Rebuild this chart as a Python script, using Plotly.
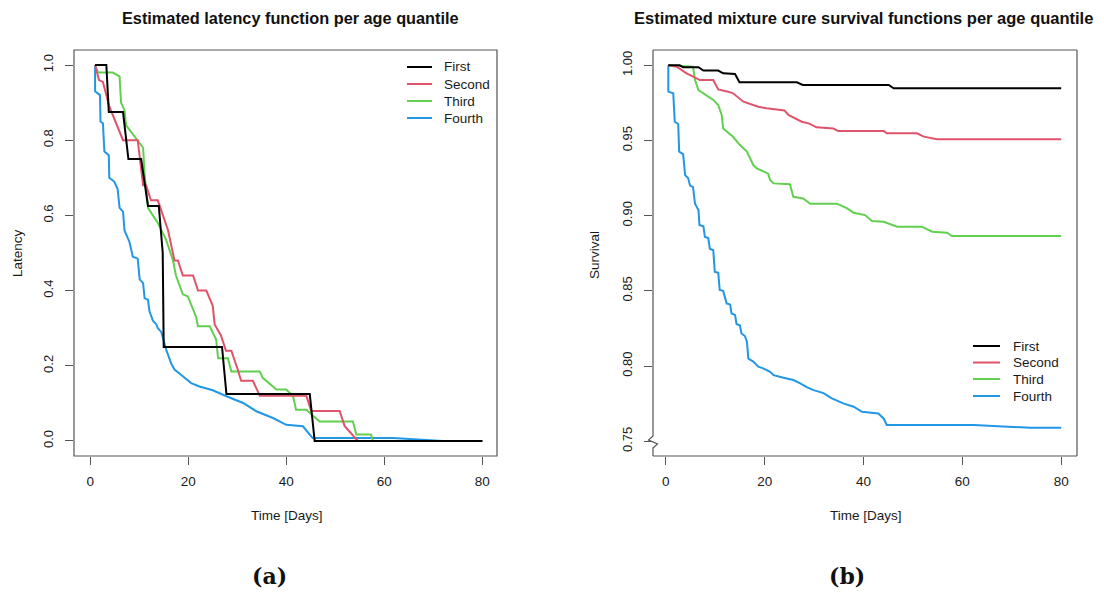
import plotly.graph_objects as go

W, H = 1104, 592

# ---------------- data ----------------
series_names = ["First", "Second", "Third", "Fourth"]
series_colors = ["#000000", "#DF536B", "#61D04F", "#2297E6"]

x_ticks = [0, 20, 40, 60, 80]
lat_yticks = [0.0, 0.2, 0.4, 0.6, 0.8, 1.0]
lat_yticklabels = ["0.0", "0.2", "0.4", "0.6", "0.8", "1.0"]
surv_yticks = [0.75, 0.80, 0.85, 0.90, 0.95, 1.00]
surv_yticklabels = ["0.75", "0.80", "0.85", "0.90", "0.95", "1.00"]

# (a) latency
lat_first_t = [1, 3.3, 3.8, 6.7, 7.8, 10.4, 11.8, 14.0, 14.8, 15.0, 26.9, 27.8, 44.8, 45.8, 80]
lat_first_s = [1, 1, 0.875, 0.875, 0.75, 0.75, 0.625, 0.625, 0.5, 0.25, 0.25, 0.125, 0.125, 0, 0]

lat_second_t = [1, 1.8, 2.6, 3.9, 6.7, 9.7, 10.8, 11.4, 12.4, 13.8, 15.9, 17.2, 17.9, 18.9, 21.0, 22.0, 23.7,
                25.0, 25.4, 26.7, 27.7, 28.8, 30.1, 30.8, 33.2, 34.6, 44.1, 45.1, 50.9, 51.9, 54.6, 80]
lat_second_s = [1, 0.96, 0.955, 0.89, 0.80, 0.80, 0.68, 0.68, 0.64, 0.64, 0.56, 0.48, 0.48, 0.44, 0.44, 0.40, 0.40,
                0.36, 0.31, 0.28, 0.24, 0.24, 0.19, 0.16, 0.16, 0.12, 0.12, 0.08, 0.08, 0.04, 0.0, 0.0]

lat_third_t = [1, 1.6, 4.6, 6.0, 6.3, 7.0, 7.3, 9.7, 10.8, 11.1, 11.8, 13.8, 15.5, 16.9, 17.5, 18.9, 19.9, 21.0,
               21.6, 22.0, 24.4, 25.7, 26.1, 28.1, 28.8, 34.6, 35.2, 38.0, 40.0, 41.4, 42.0, 44.1, 46.8, 53.6,
               54.3, 57.3, 57.7, 80]
lat_third_s = [1, 0.98, 0.98, 0.97, 0.90, 0.88, 0.84, 0.80, 0.78, 0.71, 0.62, 0.58, 0.535, 0.48, 0.44, 0.39, 0.385,
               0.35, 0.33, 0.305, 0.305, 0.27, 0.22, 0.22, 0.185, 0.185, 0.168, 0.137, 0.137, 0.119, 0.083, 0.083,
               0.052, 0.052, 0.017, 0.017, 0.0, 0.0]

lat_fourth_t = [1, 1, 2.0, 2.1, 2.6, 2.9, 3.8, 3.9, 4.9, 5.6, 6.0, 6.7, 7.0, 8.0, 8.7, 9.7, 10.1, 10.8, 11.1, 11.8,
                12.1, 12.8, 13.5, 13.8, 14.5, 15.5, 16.5, 17.2, 18.9, 20.6, 22.3, 25.0, 27.8, 31.2, 33.9, 37.3,
                40.0, 43.4, 45.1, 45.4, 61.8, 72, 80]
lat_fourth_s = [1, 0.93, 0.92, 0.85, 0.845, 0.77, 0.76, 0.70, 0.69, 0.67, 0.62, 0.61, 0.56, 0.53, 0.49, 0.485, 0.43,
                0.42, 0.38, 0.375, 0.345, 0.32, 0.31, 0.30, 0.29, 0.243, 0.207, 0.19, 0.172, 0.154, 0.145, 0.135,
                0.119, 0.101, 0.079, 0.061, 0.043, 0.039, 0.012, 0.008, 0.008, 0.0, 0.0]

# (b) mixture cure survival
surv_first_t = [0.5, 2.8, 3.5, 6.6, 7.6, 10.6, 11.6, 14.0, 14.9, 26.5, 27.7, 45.1, 46.1, 80]
surv_first_s = [1, 1.0, 0.9987, 0.9987, 0.9965, 0.9965, 0.9947, 0.9942, 0.9887, 0.9887, 0.987, 0.987, 0.9847, 0.9847]

surv_second_t = [0.5, 2.2, 4.2, 6.9, 9.6, 10.6, 12.6, 13.6, 15.7, 17.0, 18.7, 20.4, 21.8, 24.0, 24.8, 27.5, 28.9,
                 30.5, 33.9, 34.9, 44.1, 44.7, 50.8, 52.2, 54.9, 80]
surv_second_s = [1, 0.9991, 0.9947, 0.9902, 0.9902, 0.984, 0.9825, 0.9814, 0.9758, 0.9743, 0.9725, 0.9714, 0.971,
                 0.970, 0.967, 0.9625, 0.9614, 0.9588, 0.958, 0.9563, 0.9563, 0.9548, 0.9548, 0.9526, 0.9508, 0.9508]

surv_third_t = [0.5, 5.5, 5.9, 6.6, 9.6, 10.6, 11.3, 11.6, 13.6, 15.0, 16.4, 17.7, 18.4, 20.7, 21.1, 21.8, 25.1,
                25.8, 27.8, 29.2, 34.6, 36.6, 38.0, 40.3, 41.7, 44.1, 46.8, 51.8, 53.9, 56.9, 57.9, 80]
surv_third_s = [1, 0.9991, 0.9902, 0.9836, 0.977, 0.9736, 0.967, 0.958, 0.9525, 0.947, 0.9426, 0.9337, 0.9315,
                0.928, 0.9237, 0.9215, 0.921, 0.9126, 0.9115, 0.908, 0.908, 0.905, 0.902, 0.9004, 0.8965, 0.896,
                0.8927, 0.8927, 0.8894, 0.8887, 0.8865, 0.8865]

surv_fourth_t = [0.5, 0.5, 1.5, 1.8, 2.5, 2.7, 3.5, 3.9, 4.5, 4.9, 5.5, 5.9, 6.6, 6.8, 7.6, 7.9, 8.6, 8.9, 9.6, 9.9,
                 10.6, 10.9, 11.6, 12.3, 13.0, 13.3, 14.0, 14.3, 15.0, 15.3, 16.0, 16.4, 16.7, 17.7, 18.7, 19.7,
                 21.1, 21.8, 23.8, 25.8, 27.2, 28.5, 29.9, 31.9, 33.6, 35.9, 38.0, 39.7, 43.0, 44.1, 44.7, 62.3,
                 73.8, 80]
surv_fourth_s = [1, 0.9825, 0.9814, 0.9625, 0.961, 0.9426, 0.941, 0.927, 0.925, 0.920, 0.919, 0.908, 0.9038, 0.8938,
                 0.893, 0.886, 0.885, 0.878, 0.877, 0.8627, 0.862, 0.8506, 0.850, 0.8417, 0.841, 0.835, 0.834, 0.828,
                 0.827, 0.8217, 0.820, 0.8162, 0.805, 0.803, 0.7996, 0.7985, 0.7962, 0.794, 0.7922, 0.7907, 0.7885,
                 0.786, 0.784, 0.782, 0.7785, 0.7752, 0.773, 0.7696, 0.7685, 0.765, 0.7608, 0.7608, 0.759, 0.759]

lat_series = [(lat_first_t, lat_first_s), (lat_second_t, lat_second_s),
              (lat_third_t, lat_third_s), (lat_fourth_t, lat_fourth_s)]
surv_series = [(surv_first_t, surv_first_s), (surv_second_t, surv_second_s),
               (surv_third_t, surv_third_s), (surv_fourth_t, surv_fourth_s)]

# ---------------- helpers ----------------
def px(x):
    return x / W

def py(y):
    return 1 - y / H

FONT = "Liberation Sans, Arial, Helvetica, sans-serif"
AX = "#555555"
TXT = "#1a1a1a"

fig = go.Figure()

draw_order = [3, 2, 1, 0]
for i in draw_order:
    t, s = lat_series[i]
    fig.add_trace(go.Scatter(x=t, y=s, mode="lines", name=series_names[i],
                             line=dict(color=series_colors[i], width=2),
                             xaxis="x", yaxis="y", showlegend=False))
for i in draw_order:
    t, s = surv_series[i]
    fig.add_trace(go.Scatter(x=t, y=s, mode="lines", name=series_names[i],
                             line=dict(color=series_colors[i], width=2),
                             xaxis="x2", yaxis="y2", showlegend=False))

L = (74, 497)
R = (653, 1077)
TOP, BOT = 50, 456
ydom = [py(BOT), py(TOP)]

common_x = dict(showgrid=False, zeroline=False, showline=False, ticks="outside", ticklen=8,
                tickcolor=AX, tickwidth=1, tickvals=x_ticks,
                tickfont=dict(family=FONT, size=13.5, color=TXT), ticklabelstandoff=5)
common_y = dict(showgrid=False, zeroline=False, showline=False, ticks="outside", ticklen=8,
                tickcolor=AX, tickwidth=1, tickangle=-90,
                tickfont=dict(family=FONT, size=13, color=TXT), ticklabelstandoff=7)

fig.update_layout(
    width=W, height=H, margin=dict(l=0, r=0, t=0, b=0),
    paper_bgcolor="white", plot_bgcolor="white",
    xaxis=dict(domain=[px(L[0]), px(L[1])], range=[-3.3, 83.0], anchor="y", **common_x),
    yaxis=dict(domain=ydom, range=[-0.04, 1.04], anchor="x", tickvals=lat_yticks,
               ticktext=lat_yticklabels, **common_y),
    xaxis2=dict(domain=[px(R[0]), px(R[1])], range=[-2.6, 83.2], anchor="y2", **common_x),
    yaxis2=dict(domain=ydom, range=[0.7402, 1.0102], anchor="x2", tickvals=surv_yticks,
                ticktext=surv_yticklabels, **common_y),
)

shapes = []
# left box
shapes.append(dict(type="rect", xref="paper", yref="paper", x0=px(L[0]), x1=px(L[1]),
                   y0=py(BOT), y1=py(TOP), line=dict(color=AX, width=1.2)))
# right box with axis break on left side
for (xa, ya, xb, yb) in [(R[0], TOP, R[1], TOP), (R[1], TOP, R[1], BOT), (R[0], BOT, R[1], BOT)]:
    shapes.append(dict(type="line", xref="paper", yref="paper", x0=px(xa), y0=py(ya),
                       x1=px(xb), y1=py(yb), line=dict(color=AX, width=1.2)))
zig = [(R[0], TOP), (R[0], 436), (R[0] - 4.5, 440), (R[0] + 4.5, 444), (R[0], 448), (R[0], BOT)]
path = "M " + " L ".join(f"{px(a):.5f},{py(b):.5f}" for a, b in zig)
shapes.append(dict(type="path", xref="paper", yref="paper", path=path,
                   line=dict(color=AX, width=1.2)))

annotations = []

def label(text, x, y, size, family=FONT, angle=0, color=TXT, xanchor="center"):
    annotations.append(dict(text=text, x=px(x), y=py(y), xref="paper", yref="paper",
                            xanchor=xanchor, yanchor="middle", textangle=angle, showarrow=False,
                            font=dict(family=family, size=size, color=color)))

# titles
label("<b>Estimated latency function per age quantile</b>", 290, 18, 16.3, color="#111111")
label("<b>Estimated mixture cure survival functions per age quantile</b>", 863, 18, 16.5, color="#111111")
# axis titles
label("Time [Days]", 287, 515, 13.5)
label("Time [Days]", 866, 515, 13.5)
label("Latency", 17, 253, 13.5, angle=-90)
label("Survival", 595, 255, 13.5, angle=-90)
# sub captions
label("<b>(a)</b>", 269, 576, 22, family="DejaVu Serif, serif", color="#111111")
label("<b>(b)</b>", 847, 576, 22, family="DejaVu Serif, serif", color="#111111")

# legends
def legend(x0, x1, xt, rows):
    for i, yy in enumerate(rows):
        shapes.append(dict(type="line", xref="paper", yref="paper", x0=px(x0), x1=px(x1),
                           y0=py(yy), y1=py(yy), line=dict(color=series_colors[i], width=2)))
        label(series_names[i], xt, yy, 13.5, xanchor="left")

legend(407, 432, 442, [67, 84, 101, 118])
legend(973, 1000, 1011, [346, 362.5, 379, 396])

fig.update_layout(shapes=shapes, annotations=annotations)
fig.write_html("out.html", config={"displayModeBar": False},
               post_script="document.body.style.margin='0';document.body.style.padding='0';")
